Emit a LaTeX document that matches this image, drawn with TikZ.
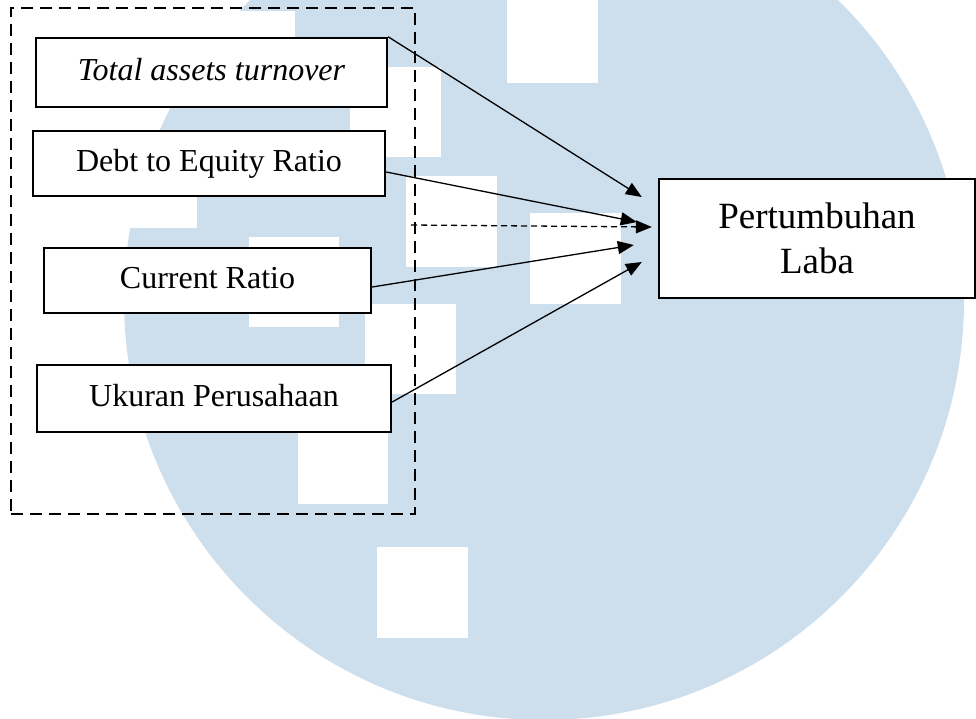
\documentclass[tikz,border=0pt]{standalone}
\usepackage{fontspec}
\setmainfont{Liberation Serif}
\usetikzlibrary{arrows.meta,calc}
\definecolor{wmblue}{RGB}{205,222,237}
\begin{document}
\begin{tikzpicture}[x=1pt,y=-1pt,
  wmsq/.style={fill=white},
  varbox/.style={draw=black, line width=2.4pt, fill=white, inner sep=0pt,
    font=\fontsize{32}{38}\selectfont, text height=22pt, text depth=6pt},
  depbox/.style={draw=black, line width=2.4pt, fill=white, inner sep=0pt,
    align=center, font=\fontsize{37}{45}\selectfont},
  groupframe/.style={draw=black, line width=2pt, dash pattern=on 12pt off 7pt,
    inner sep=0pt},
  conn/.style={draw=black, line width=1.3pt, -{Triangle[length=16pt,width=13pt]}},
  dconn/.style={draw=black, line width=1.3pt, dash pattern=on 6pt off 4pt,
    -{Triangle[length=16pt,width=13pt]}}
]
\useasboundingbox (0,0) rectangle (976,719);
\fill[white] (0,0) rectangle (976,719);
% watermark
\fill[wmblue] (544,300) circle[radius=420];
\fill[wmsq] (507,0) rectangle (598,83);
\fill[wmsq] (205,11) rectangle (295,101);
\fill[wmsq] (350,67) rectangle (441,157);
\fill[wmsq] (107,138) rectangle (197,228);
\fill[wmsq] (406,176) rectangle (497,267);
\fill[wmsq] (530,213) rectangle (621,304);
\fill[wmsq] (249,237) rectangle (339,327);
\fill[wmsq] (365,304) rectangle (456,394);
\fill[wmsq] (298,413) rectangle (388,504);
\fill[wmsq] (377,547) rectangle (468,638);
% group frame
\node[groupframe, minimum width=404pt, minimum height=506pt] (grp) at (213,261) {};
% boxes
\node[varbox, minimum width=351pt, minimum height=69pt] (tat) at (211.5,72.5) {\itshape Total assets turnover};
\node[varbox, minimum width=352pt, minimum height=65pt] (der) at (209,163.5) {Debt to Equity Ratio};
\node[varbox, minimum width=327pt, minimum height=65pt] (cr) at (207.5,280.5) {Current Ratio};
\node[varbox, minimum width=354pt, minimum height=67pt] (up) at (214,398.5) {Ukuran Perusahaan};
\node[depbox, minimum width=316pt, minimum height=119pt] (pl) at (817,238.5) {Pertumbuhan\\Laba};
% arrow tips
\coordinate (t1) at ($(pl.west)+(-16,-41.5)$);
\coordinate (t2) at ($(pl.west)+(-21,-16.5)$);
\coordinate (t3) at ($(pl.west)+(-6,-11.5)$);
\coordinate (t4) at ($(pl.west)+(-24,6.5)$);
\coordinate (t5) at ($(pl.west)+(-16,23.5)$);
% connectors
\draw[conn] (tat.north east) -- (t1);
\draw[conn] ([yshift=-8.5pt]der.east) -- (t2);
\draw[dconn] ([shift={(-5pt,36pt)}]grp.east) -- (t3);
\draw[conn] ([yshift=-6.5pt]cr.east) -- (t4);
\draw[conn] ([yshift=-3.5pt]up.east) -- (t5);
\end{tikzpicture}
\end{document}
